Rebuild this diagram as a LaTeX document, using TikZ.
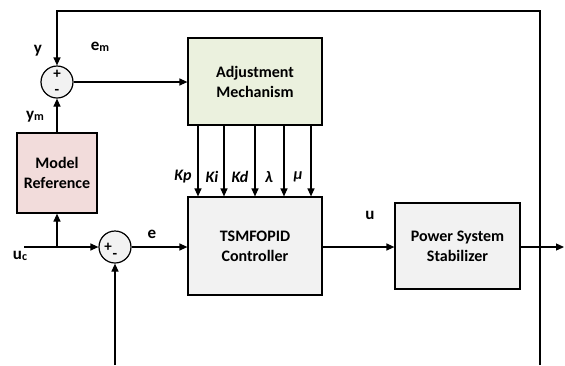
\documentclass[tikz,border=0pt]{standalone}
\usepackage{fontspec}
\setmainfont{Carlito}
\usepackage{xcolor}
\usepackage{tikz}
\usetikzlibrary{arrows.meta,positioning,calc}
\definecolor{verdeclaro}{HTML}{EBF1DE}
\definecolor{rosaclaro}{HTML}{F2DCDB}
\definecolor{grisclaro}{HTML}{F2F2F2}
\tikzset{
  bloque/.style={draw,fill=grisclaro,line width=1.2pt,align=center,font=\fontsize{16}{20}\selectfont\bfseries,inner sep=2pt},
  bloqueverde/.style={bloque,fill=verdeclaro},
  bloquerosa/.style={bloque,fill=rosaclaro},
  suma/.style={draw,circle,fill=grisclaro,line width=1.2pt,minimum size=32pt,inner sep=0pt},
  signo/.style={font=\fontsize{15}{15}\selectfont\bfseries,inner sep=0pt},
  linea/.style={line width=1.2pt},
  flecha/.style={-{Triangle[length=8pt,width=7pt]},line width=1.2pt},
  etiqueta/.style={font=\fontsize{17}{17}\selectfont\bfseries,inner sep=0pt},
  ganancia/.style={font=\fontsize{16}{16}\selectfont\bfseries\itshape,inner sep=0pt},
}
\newcommand{\sub}[1]{\raisebox{-1pt}{\fontsize{12}{12}\selectfont #1}}
\begin{document}
\begin{tikzpicture}[x=1pt,y=-1pt]
  \useasboundingbox (0,0) rectangle (565,365);
  % bloques
  \node[bloqueverde,minimum width=134pt,minimum height=87pt] (adj) at (255,81.5) {Adjustment\\Mechanism};
  \node[bloquerosa,minimum width=80pt,minimum height=80pt] (mr) at (57,173) {Model\\Reference};
  \node[bloque,minimum width=134pt,minimum height=98pt] (ctl) at (255,246) {TSMFOPID\\Controller};
  \node[bloque,minimum width=125pt,minimum height=86pt] (pss) at (457.5,246) {Power System\\Stabilizer};
  % sumadores
  \node[suma] (s1) at (57,82) {};
  \node[signo] at ($(s1.center)+(0,-8)$) {+};
  \node[signo] at ($(s1.center)+(0,10)$) {-};
  \node[suma] (s2) at (115,247) {};
  \node[signo] at ($(s2.center)+(-7,0)$) {+};
  \node[signo] at ($(s2.center)+(0,9)$) {-};
  % puntos libres
  \coordinate (uc) at (24,247);
  \coordinate (j) at (57,247);
  \coordinate (bot) at (115,365);
  \coordinate (fb) at (540,365);
  \coordinate (esq) at (540,11);
  \coordinate (out) at (564,247);
  % conexiones
  \draw[flecha] (fb) -- (esq) -| (s1.north);
  \draw[flecha] (s1.east) -- (s1.east -| adj.west);
  \draw[flecha] (mr.north) -- (s1.south);
  \draw[flecha] (uc) -- (s2.west);
  \draw[flecha] (j) -- (mr.south);
  \draw[flecha] (bot) -- (s2.south);
  \draw[flecha] (s2.east) -- (s2.east -| ctl.west);
  \draw[flecha] (ctl.east |- s2.east) -- (pss.west |- s2.east);
  \draw[flecha] (pss.east |- s2.east) -- (out);
  \foreach \x/\lx/\t in {198/183/Kp,224/212/Ki,255/240/Kd,284/269/λ,311/298/μ}{
    \draw[flecha] (\x,0 |- adj.south) -- (\x,0 |- ctl.north);
    \node[ganancia] at (\lx,177) {\t};
  }
  % etiquetas
  \node[etiqueta] (ly) at (38,51) {y};
  \node[etiqueta] (lem) at (100,47) {e\sub{m}};
  \node[etiqueta] (lym) at (35,117) {y\sub{m}};
  \node[etiqueta] (luc) at (20,256) {u\sub{c}};
  \node[etiqueta] (le) at (152,234) {e};
  \node[etiqueta] (lu) at (370,215) {u};
\end{tikzpicture}
\end{document}
